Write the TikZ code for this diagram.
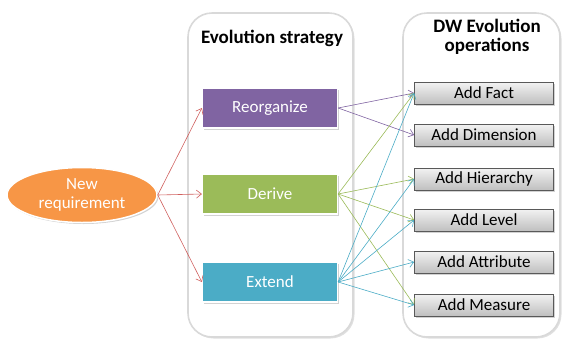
\documentclass[tikz,border=0pt]{standalone}
\usepackage{fontspec}
\setmainfont{Carlito}
\usetikzlibrary{shadows,arrows.meta,shapes.geometric}
\definecolor{cPurple}{HTML}{8064A2}
\definecolor{cGreen}{HTML}{9BBB59}
\definecolor{cBlue}{HTML}{4BACC6}
\definecolor{cOrange}{HTML}{F79646}
\definecolor{cRed}{HTML}{D0605E}
\definecolor{cPanel}{HTML}{D9D9D9}
\tikzset{
  panel/.style={draw=cPanel, line width=1.6pt, fill=white, rounded corners=24pt,
    drop shadow={shadow xshift=1.5pt, shadow yshift=-1.5pt, opacity=0.25}},
  title/.style={font=\fontsize{19}{19}\selectfont\bfseries, text=black, align=center, inner sep=0pt},
  strat/.style={minimum width=135pt, minimum height=40pt, draw=white, line width=1.2pt,
    text=white, font=\fontsize{17}{19}\selectfont,
    drop shadow={shadow xshift=1.5pt, shadow yshift=-1.5pt, opacity=0.35}},
  op/.style={minimum width=139pt, minimum height=22pt, draw=black!65, line width=0.7pt,
    top color=white!95!black, bottom color=black!25, text=black,
    font=\fontsize{17}{19}\selectfont, inner sep=0pt,
    drop shadow={shadow xshift=1.5pt, shadow yshift=-1.5pt, opacity=0.35}},
  conn/.style={line width=0.6pt, -{Straight Barb[length=5pt,width=8pt]}},
}
\begin{document}
\begin{tikzpicture}[x=1pt,y=-1pt]
\useasboundingbox (0,0) rectangle (563,341);
\path[panel] (188,13) rectangle (353,337);
\path[panel] (403,13) rectangle (560,337);
\node[title] (t1) at (272,38) {Evolution strategy};
\node[title] (t2a) at (487,26) {DW Evolution};
\node[title] (t2b) at (487,46) {operations};
\node[ellipse, fill=cOrange, draw=white, line width=1.5pt, minimum width=150pt, minimum height=55pt,
  inner sep=0pt, text=white, align=center, font=\fontsize{17}{19}\selectfont,
  drop shadow={shadow xshift=1.5pt, shadow yshift=-1.5pt, opacity=0.35}] (req) at (82,195)
  {New\\requirement};
\node[strat, fill=cPurple] (reo) at (270,108) {Reorganize};
\node[strat, fill=cGreen] (der) at (270,194) {Derive};
\node[strat, fill=cBlue] (ext) at (270,282) {Extend};
\node[op] (fact) at (484,93) {Add Fact};
\node[op] (dim) at (484,135) {Add Dimension};
\node[op] (hier) at (484,179) {Add Hierarchy};
\node[op] (lev) at (484,220) {Add Level};
\node[op] (attr) at (484,262) {Add Attribute};
\node[op] (meas) at (484,305) {Add Measure};
\draw[conn, cRed] (req.east) -- (reo.west);
\draw[conn, cRed] (req.east) -- (der.west);
\draw[conn, cRed] (req.east) -- (ext.west);
\draw[conn, cPurple] (reo.east) -- (fact.west);
\draw[conn, cPurple] (reo.east) -- (dim.west);
\draw[conn, cGreen] (der.east) -- (fact.west);
\draw[conn, cGreen] (der.east) -- (hier.west);
\draw[conn, cGreen] (der.east) -- (lev.west);
\draw[conn, cGreen] (der.east) -- (meas.west);
\draw[conn, cBlue] (ext.east) -- (fact.west);
\draw[conn, cBlue] (ext.east) -- (hier.west);
\draw[conn, cBlue] (ext.east) -- (lev.west);
\draw[conn, cBlue] (ext.east) -- (attr.west);
\draw[conn, cBlue] (ext.east) -- (meas.west);
\end{tikzpicture}
\end{document}
